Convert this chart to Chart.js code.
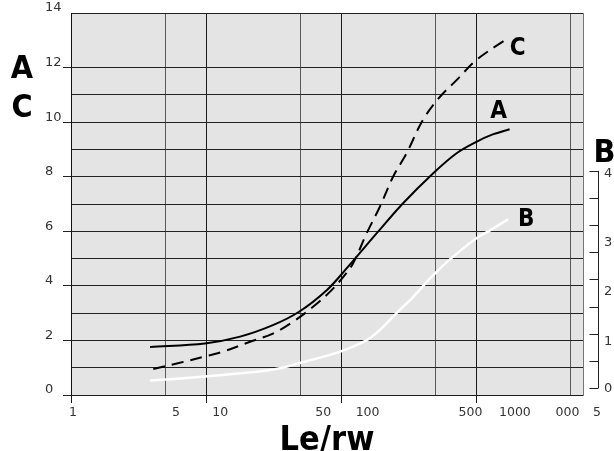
<!DOCTYPE html>
<html>
<head>
<meta charset="utf-8">
<script src="https://cdn.jsdelivr.net/npm/chart.js@4.4.1/dist/chart.umd.min.js"></script>
<style>
  html, body { margin: 0; padding: 0; background: #fff; }
  canvas { display: block; }
</style>
</head>
<body>
<canvas id="chart" width="614" height="451"></canvas>
<script>
// curve A (solid, left axis)
const aX = [3.85, 9.8, 17.9, 31.3, 48.9, 78.7, 110, 184, 287, 480, 718, 1007, 1330, 1774];
const aY = [1.76, 1.89, 2.14, 2.56, 3.05, 3.85, 4.64, 5.93, 7.02, 8.12, 8.86, 9.28, 9.55, 9.74];
// curve C (dashed, left axis)
const cX = [4.07, 6.4, 10.1, 13.4, 21.2, 31.6, 44.3, 62.4, 83, 104, 123, 155, 194, 243, 306, 404, 541, 718, 1007, 1690];
const cY = [0.95, 1.18, 1.43, 1.59, 1.95, 2.26, 2.69, 3.24, 3.79, 4.33, 4.83, 5.93, 6.90, 8.0, 8.86, 10.08, 10.93, 11.54, 12.28, 13.05];
// curve B (white, right axis)
const bX = [3.85, 9.8, 17.9, 31.5, 49.6, 98.6, 155, 194, 258, 343, 482, 677, 1007, 1262, 1730];
const bY = [0.135, 0.21, 0.27, 0.34, 0.46, 0.67, 0.88, 1.07, 1.38, 1.68, 2.08, 2.42, 2.76, 2.90, 3.11];

// axes
const xGridTicks = [1, 5, 10, 50, 100, 500, 1000, 5000];
const xLabelAt = [1, 5, 10, 50, 100, 500, 1000, 2275, 3610];
const xLabelText = ['1', '5', '10', '50', '100', '500', '1000', '000', '5'];
const yLabelled = [0, 2, 4, 6, 8, 10, 12, 14];
const bTicks = ['0', '1', '2', '3', '4'];
const bLabelAt = [-0.02, 0.85, 1.77, 2.68, 3.95];   // the B labels sit a bit off their marks
const bMarks = [0, 0.5, 1, 1.5, 2, 2.5, 3, 3.5, 4];

const FONT_TICK = '"DejaVu Sans", sans-serif';
const FONT_BIG = '"Liberation Sans Narrow", "DejaVu Sans Condensed", "Liberation Sans", sans-serif';

const pts = (xs, ys) => xs.map((v, i) => ({ x: v, y: ys[i] }));
const isDecade = v => Math.abs(Math.log10(v) % 1) < 1e-9;

const plotBg = {
  id: 'plotBg',
  beforeDraw(chart) {
    const { ctx, chartArea: a } = chart;
    ctx.save();
    ctx.fillStyle = '#e4e4e4';
    ctx.fillRect(a.left, a.top, a.right - a.left, a.bottom - a.top);
    ctx.restore();
  }
};

// big letters + the short B axis on the right
const letters = {
  id: 'letters',
  afterDraw(chart) {
    const { ctx, scales: { x, y, y2 } } = chart;
    ctx.save();
    ctx.fillStyle = '#000';
    ctx.textAlign = 'center';
    ctx.textBaseline = 'middle';
    ctx.font = 'bold 32px ' + FONT_BIG;
    ctx.fillText('A', y.left - 23, y.getPixelForValue(12) + 2);
    ctx.fillText('C', y.left - 23, y.getPixelForValue(10.5));

    const bx = Math.round(y2.left + 15) + 0.5;
    ctx.strokeStyle = '#222';
    ctx.lineWidth = 1;
    ctx.beginPath();
    ctx.moveTo(bx, y2.getPixelForValue(bMarks[0]));
    ctx.lineTo(bx, y2.getPixelForValue(bMarks[bMarks.length - 1]));
    bMarks.forEach(v => {
      const py = Math.round(y2.getPixelForValue(v)) + 0.5;
      ctx.moveTo(bx - 9, py);
      ctx.lineTo(bx, py);
    });
    ctx.stroke();
    ctx.fillText('B', bx + 6, y2.getPixelForValue(4) - 17);

    ctx.font = 'bold 24px ' + FONT_BIG;
    const last = a => a[a.length - 1];
    ctx.fillText('A', x.getPixelForValue(last(aX)) - 11, y.getPixelForValue(last(aY)) - 17);
    ctx.fillText('C', x.getPixelForValue(last(cX)) + 11, y.getPixelForValue(last(cY)) + 10);
    ctx.fillText('B', x.getPixelForValue(last(bX)) + 18, y2.getPixelForValue(last(bY)) + 1);
    ctx.restore();
  }
};

new Chart(document.getElementById('chart'), {
  type: 'line',
  data: {
    datasets: [
      { label: 'A', data: pts(aX, aY), yAxisID: 'y', borderColor: '#000', borderWidth: 2 },
      { label: 'C', data: pts(cX, cY), yAxisID: 'y', borderColor: '#000', borderWidth: 2, borderDash: [12, 7] },
      { label: 'B', data: pts(bX, bY), yAxisID: 'y2', borderColor: '#fff', borderWidth: 2.5 }
    ]
  },
  options: {
    responsive: false,
    animation: false,
    devicePixelRatio: 1,
    layout: { padding: { left: 45, top: 13, right: 0, bottom: -7 } },
    elements: {
      point: { radius: 0 },
      line: { tension: 0.35, fill: false }
    },
    plugins: { legend: { display: false }, tooltip: { enabled: false } },
    scales: {
      x: {
        type: 'logarithmic', position: 'bottom', min: 1, max: 6200, weight: 0,
        afterBuildTicks: s => { s.ticks = xGridTicks.map(v => ({ value: v })); },
        afterFit: s => { s.height = 8; s.paddingLeft = 0; s.paddingRight = 0; },
        ticks: { display: false },
        grid: {
          color: c => isDecade(c.tick.value) ? '#1a1a1a' : '#5a5a5a',
          tickColor: c => isDecade(c.tick.value) ? '#1a1a1a' : 'transparent',
          tickLength: 8
        },
        border: { color: '#1a1a1a' }
      },
      x2: {
        type: 'logarithmic', position: 'bottom', min: 0.97, max: 2900, weight: 1,
        afterBuildTicks: s => { s.ticks = xLabelAt.map(v => ({ value: v })); },
        afterFit: s => { s.height = 55; s.paddingLeft = 0; s.paddingRight = 0; },
        grid: { display: false, drawTicks: false },
        border: { display: false },
        ticks: {
          autoSkip: false, maxRotation: 0, padding: 2, color: '#333',
          font: { family: FONT_TICK, size: 12.5 },
          callback: (v, i) => xLabelText[i]
        },
        title: {
          display: true, text: 'Le/rw', color: '#000',
          font: { family: FONT_BIG, size: 34, weight: 'bold', lineHeight: 1 },
          padding: 0
        }
      },
      y: {
        position: 'left', min: 0, max: 14,
        afterFit: s => { s.width = 26; s.paddingTop = 0; s.paddingBottom = 0; },
        ticks: {
          stepSize: 1, crossAlign: 'far', labelOffset: -5, color: '#333',
          font: { family: FONT_TICK, size: 13 },
          callback: v => yLabelled.includes(v) ? String(v) : ''
        },
        grid: {
          color: c => c.tick.value === 13 ? 'transparent' : '#222',
          tickColor: c => (yLabelled.includes(c.tick.value) && c.tick.value !== 14) ? '#222' : 'transparent',
          tickLength: 8
        },
        border: { color: '#111' }
      },
      y2: {
        position: 'right', min: -0.13, max: 6.91,
        afterBuildTicks: s => { s.ticks = bLabelAt.map(v => ({ value: v })); },
        afterFit: s => { s.width = 31; s.paddingTop = 0; s.paddingBottom = 0; },
        grid: { drawOnChartArea: false, drawTicks: false },
        border: { color: '#777' },
        ticks: {
          padding: 21, color: '#333',
          font: { family: FONT_TICK, size: 13 },
          callback: (v, i) => bTicks[i]
        }
      }
    }
  },
  plugins: [plotBg, letters]
});
</script>
</body>
</html>
